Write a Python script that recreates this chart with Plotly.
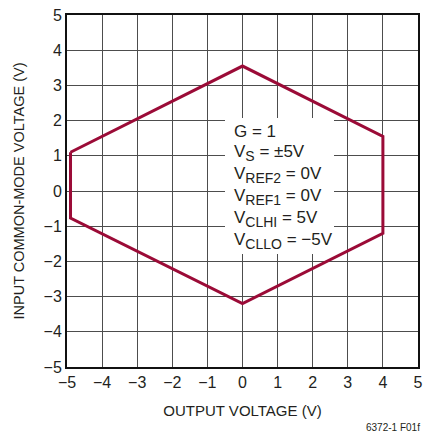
import plotly.graph_objects as go

# Hexagonal operating region: output voltage vs. input common-mode voltage
out_voltage = [-4.9, 0.0, 4.0, 4.0, 0.0, -4.9, -4.9]
cm_voltage = [1.1, 3.55, 1.55, -1.2, -3.2, -0.77, 1.1]

axis_ticks = list(range(-5, 6))


def sub(s):
    return f"<sub><span style='font-size:14px'>{s}</span></sub>"


cond_lines = [
    "G = 1",
    f"V{sub('S')} = ±5V",
    f"V{sub('REF2')} = 0V",
    f"V{sub('REF1')} = 0V",
    f"V{sub('CLHI')} = 5V",
    f"V{sub('CLLO')} = −5V",
]

FONT = "Liberation Sans, Arial, Helvetica, sans-serif"
TXT = "#231f20"

fig = go.Figure()
fig.add_trace(go.Scatter(
    x=out_voltage, y=cm_voltage, mode="lines",
    line=dict(color="#9b0b37", width=3),
    hoverinfo="skip", showlegend=False,
))

axis_common = dict(
    range=[-5, 5], tickvals=axis_ticks, showgrid=True,
    gridcolor="#4d4d4d", gridwidth=1.2, zeroline=False,
    showline=True, linecolor="#111111", linewidth=2, mirror=True,
    ticks="", automargin=False,
    tickfont=dict(family=FONT, size=16, color=TXT),
)

fig.update_layout(
    width=427, height=436,
    margin=dict(l=67, r=9, t=15, b=69),
    paper_bgcolor="white", plot_bgcolor="white",
    xaxis=dict(axis_common, title=dict(text="OUTPUT VOLTAGE (V)",
                                       font=dict(family=FONT, size=15, color=TXT))),
    yaxis=dict(axis_common, title=dict(text="INPUT COMMON-MODE VOLTAGE (V)",
                                       font=dict(family=FONT, size=14.5, color=TXT))),
)

# white backing for the condition block
fig.add_shape(type="rect", xref="paper", yref="paper",
              x0=(225 - 67) / 351, x1=(334 - 67) / 351,
              y0=(367 - 254) / 352, y1=(367 - 118) / 352,
              fillcolor="white", line_width=0, layer="above")

y_top = 131.5
for i, s in enumerate(cond_lines):
    ypix = y_top + i * 21.8
    fig.add_annotation(
        xref="paper", yref="paper",
        x=(232 - 67) / 351, y=(367 - ypix) / 352,
        xanchor="left", yanchor="middle", showarrow=False,
        text=s, font=dict(family=FONT, size=17, color=TXT),
    )

fig.add_annotation(
    xref="paper", yref="paper", x=(422 - 67) / 351, y=-(427 - 367) / 352,
    xanchor="right", yanchor="middle", showarrow=False,
    text="6372-1 F01f", font=dict(family=FONT, size=10, color=TXT),
)

fig.write_html("out.html")
